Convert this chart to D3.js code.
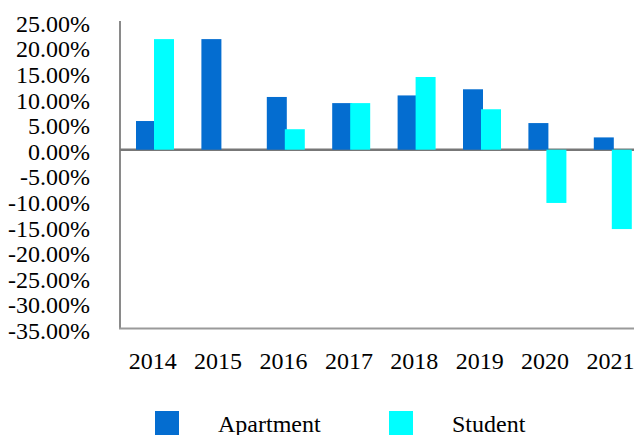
<!DOCTYPE html>
<html>
<head>
<meta charset="utf-8">
<script src="https://cdn.jsdelivr.net/npm/d3@7"></script>
<style>
  body { margin: 0; background: #fff; }
  svg text { font-family: "Times New Roman", Times, "Liberation Serif", serif !important; fill: #000; }
</style>
</head>
<body>
<div id="vis"></div>
<script>
(function() {
    var width = 634,
        height = 435;
    var serif = '"Times New Roman", Times, "Liberation Serif", serif';

    // data (percent)
    var years = ["2014", "2015", "2016", "2017", "2018", "2019", "2020", "2021"];
    var apartment = [5.6, 21.6, 10.3, 9.1, 10.6, 11.8, 5.2, 2.4];
    var student = [21.6, 0, 4.0, 9.1, 14.2, 7.9, -10.4, -15.5];
    var seriesNames = ["Apartment", "Student"];
    var yTicks = [25, 20, 15, 10, 5, 0, -5, -10, -15, -20, -25, -30, -35];

    var colors = {
        apartment: "#046DD0",
        student: "#00FFFF",
        axis: "#8a8a8a",
        zero: "#777777"
    };

    var svg = d3.select("#vis")
        .append("svg")
        .attr("width", width)
        .attr("height", height)
        .style("font-family", serif);

    var x0 = d3.scaleBand().domain(years).range([120, 643.2]).padding(0);
    var x1 = d3.scaleBand().domain(seriesNames).range([16, 52]).padding(0);
    var y = d3.scaleLinear().domain([-35, 25]).range([328.9, 21.7]);

    var rows = years.map(function(yr, i) {
        return { year: yr, values: [
            { key: "Apartment", value: apartment[i] },
            { key: "Student", value: student[i] }
        ]};
    });

    // y axis labels (plain hyphen for negatives, like the original)
    var yAxis = d3.axisLeft(y)
        .tickValues(yTicks)
        .tickSize(0)
        .tickPadding(0)
        .tickFormat(function(d) { return d.toFixed(2) + "%"; });

    svg.append("g")
        .attr("transform", "translate(90,0)")
        .call(yAxis)
        .call(function(g) {
            g.attr("font-family", null).attr("font-size", null);
            g.select(".domain").remove();
            g.selectAll("text")
                .attr("dy", "0.4em")
                .style("font-family", serif)
                .style("font-size", "24px")
                .attr("fill", "#000");
        });

    // x axis labels
    var xAxis = d3.axisBottom(x0).tickSize(0).tickPadding(0);
    svg.append("g")
        .attr("transform", "translate(0,351)")
        .call(xAxis)
        .call(function(g) {
            g.attr("font-family", null).attr("font-size", null);
            g.select(".domain").remove();
            g.selectAll("text")
                .attr("dy", "0.75em")
                .style("font-family", serif)
                .style("font-size", "24px")
                .attr("fill", "#000");
        });

    // frame lines
    svg.append("line")
        .attr("x1", 120).attr("x2", 120)
        .attr("y1", 21).attr("y2", 329)
        .attr("stroke", colors.axis).attr("stroke-width", 2);

    svg.append("line")
        .attr("x1", 119).attr("x2", width)
        .attr("y1", 328.5).attr("y2", 328.5)
        .attr("stroke", "#9a9a9a").attr("stroke-width", 2);

    svg.append("line")
        .attr("x1", 120).attr("x2", width)
        .attr("y1", y(0)).attr("y2", y(0))
        .attr("stroke", colors.zero).attr("stroke-width", 2.5);

    // bars
    var groups = svg.selectAll(".year")
        .data(rows)
        .enter().append("g")
        .attr("class", "year")
        .attr("transform", function(d) { return "translate(" + x0(d.year) + ",0)"; });

    groups.selectAll("rect")
        .data(function(d) { return d.values.filter(function(v) { return v.value !== 0; }); })
        .enter().append("rect")
        .attr("x", function(d) { return x1(d.key); })
        .attr("width", x1.bandwidth() + 2)
        .attr("y", function(d) { return y(Math.max(0, d.value)); })
        .attr("height", function(d) { return Math.abs(y(d.value) - y(0)); })
        .attr("fill", function(d) { return d.key === "Apartment" ? colors.apartment : colors.student; });

    // legend
    var legendX = [155, 389];
    var legend = svg.selectAll(".legend")
        .data(seriesNames)
        .enter().append("g")
        .attr("class", "legend")
        .attr("transform", function(d, i) { return "translate(" + legendX[i] + ",411)"; });

    legend.append("rect")
        .attr("width", 24)
        .attr("height", 24)
        .attr("fill", function(d, i) { return i === 0 ? colors.apartment : colors.student; });

    legend.append("text")
        .attr("x", 63)
        .attr("y", 21)
        .style("font-family", serif)
        .style("font-size", "24px")
        .text(function(d) { return d; });
})();
</script>
</body>
</html>
